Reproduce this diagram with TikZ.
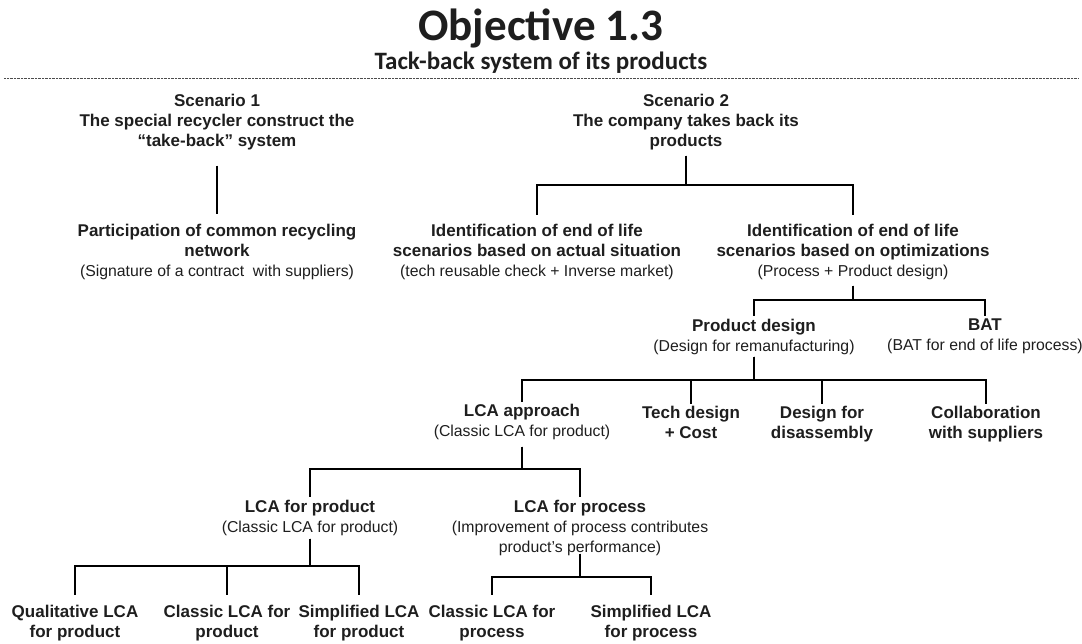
\documentclass[tikz,border=0pt]{standalone}
\usepackage{fontspec}
\setmainfont{Liberation Sans}
\newfontfamily\titlefont{Carlito}
\definecolor{txt}{HTML}{1E1E1E}
\newcommand\smalltxt[1]{{\fontsize{15.8}{18}\mdseries\selectfont #1}}
\tikzset{
  lbl/.style={align=center, inner sep=0pt, anchor=north, text=txt,
    font=\fontsize{17}{20}\selectfont\bfseries,
    execute at begin node=\strut, execute at end node=\strut},
  link/.style={line width=2pt, draw=black},
}
\begin{document}
\begin{tikzpicture}[x=1pt,y=-1pt]
\useasboundingbox (0,0) rectangle (1082,644);
% titles
\node[anchor=base, inner sep=0pt, text=txt, font=\titlefont\bfseries\fontsize{45}{50}\selectfont] (title) at (541,41) {Objective 1.3};
\node[anchor=base, inner sep=0pt, text=txt, font=\titlefont\bfseries\fontsize{25}{30}\selectfont] (subtitle) at (541,70) {Tack-back system of its products};
\coordinate (ruleL) at (4,78);
\coordinate (ruleR) at (1078,78);
\draw[black!70, line width=0.8pt, dash pattern=on 0.7pt off 0.7pt] (ruleL) -- (ruleR);

% nodes (y = top of strut = baseline - 14)
\node[lbl] (s1) at (217,94) {Scenario 1\\The special recycler construct the\\“take-back” system};
\node[lbl] (part) at (217,224) {Participation of common recycling\\network\\\smalltxt{(Signature of a contract\ \ with suppliers)}};
\node[lbl] (s2) at (686,94) {Scenario 2\\The company takes back its\\products};
\node[lbl] (ida) at (537,224) {Identification of end of life\\scenarios based on actual situation\\\smalltxt{(tech reusable check + Inverse market)}};
\node[lbl] (idb) at (853,224) {Identification of end of life\\scenarios based on optimizations\\\smalltxt{(Process + Product design)}};
\node[lbl] (pd) at (754,319) {Product design\\\smalltxt{(Design for remanufacturing)}};
\node[lbl] (bat) at (985,319) {BAT\\\smalltxt{(BAT for end of life process)}};
\node[lbl] (lca) at (522,404) {LCA approach\\\smalltxt{(Classic LCA for product)}};
\node[lbl] (tech) at (691,406) {Tech design\\+ Cost};
\node[lbl] (dfd) at (822,406) {Design for\\disassembly};
\node[lbl] (collab) at (986,406) {Collaboration\\with suppliers};
\node[lbl] (lcaprod) at (310,500) {LCA for product\\\smalltxt{(Classic LCA for product)}};
\node[lbl] (lcaproc) at (580,500) {LCA for process\\\smalltxt{(Improvement of process contributes}\\\smalltxt{product’s performance)}};
\node[lbl] (qp) at (75,605) {Qualitative LCA\\for product};
\node[lbl] (cp) at (227,605) {Classic LCA for\\product};
\node[lbl] (sp) at (359,605) {Simplified LCA\\for product};
\node[lbl] (cq) at (492,605) {Classic LCA for\\process};
\node[lbl] (sq) at (651,605) {Simplified LCA\\for process};

% bars
\coordinate (b2) at (686,185);
\coordinate (b3) at (853,300);
\coordinate (b4) at (754,380);
\coordinate (b5) at (522,469);
\coordinate (b6) at (310,566);
\coordinate (b7) at (580,577);

% connectors
\draw[link, shorten <=13pt, shorten >=10pt] (s1.south) -- (part.north);
\foreach \c in {ida,idb}
  \draw[link, shorten <=3pt, shorten >=9pt] (s2.south) -- (b2) -| (\c.north);
\foreach \c in {pd,bat}
  \draw[link, shorten <=3pt, shorten >=3pt] (idb.south) -- (b3) -| (\c.north);
\foreach \c in {lca,tech,dfd,collab}
  \draw[link, shorten <=-1pt, shorten >=2pt] (pd.south) -- (b4) -| (\c.north);
\foreach \c in {lcaprod,lcaproc}
  \draw[link, shorten <=4pt, shorten >=3pt] (lca.south) -- (b5) -| (\c.north);
\foreach \c in {qp,cp,sp}
  \draw[link, shorten <=0pt, shorten >=10pt] (lcaprod.south) -- (b6) -| (\c.north);
\foreach \c in {cq,sq}
  \draw[link, shorten <=-5pt, shorten >=10pt] (lcaproc.south) -- (b7) -| (\c.north);
\end{tikzpicture}
\end{document}
